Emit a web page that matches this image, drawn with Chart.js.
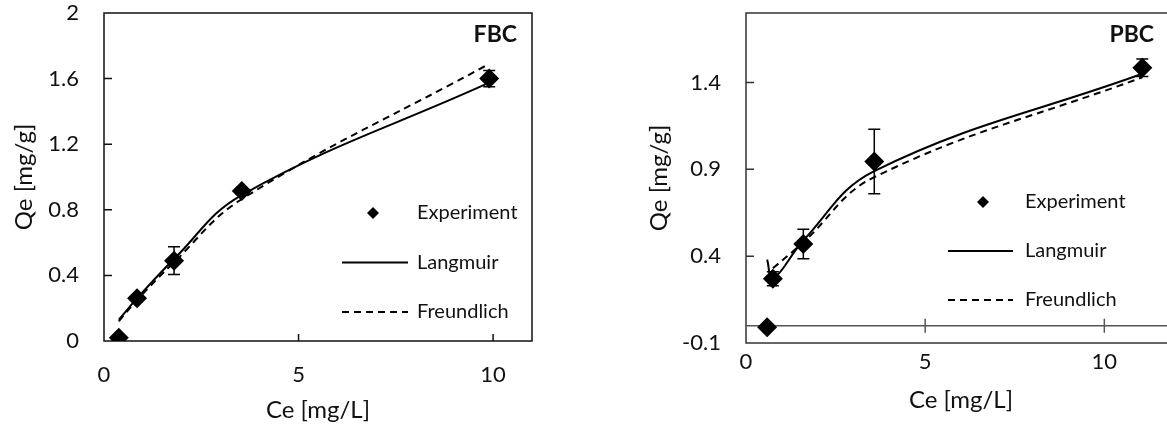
<!DOCTYPE html>
<html>
<head>
<meta charset="utf-8">
<script src="https://cdn.jsdelivr.net/npm/chart.js@4.4.0/dist/chart.umd.min.js"></script>
<style>
  html, body { margin: 0; padding: 0; background: #fff; overflow: hidden; width: 1167px; height: 429px; }
  #left { position: absolute; left: 0; top: 0; }
  #right { position: absolute; left: 600px; top: 0; }
</style>
</head>
<body>
<canvas id="left" width="560" height="429"></canvas>
<canvas id="right" width="600" height="429"></canvas>
<script>
// FBC data
const fbcCe = [0.38, 0.85, 1.8, 3.54, 9.9];
const fbcExp = [0.02, 0.26, 0.49, 0.915, 1.60];
const fbcErr = [0, 0.02, 0.085, 0.02, 0.05];
const fbcLangmuir = [0.13, 0.26, 0.50, 0.89, 1.575];
const fbcFreundlich = [0.12, 0.25, 0.48, 0.865, 1.69];
const fbcXTicks = [0, 5, 10];
const fbcYTicks = [0, 0.4, 0.8, 1.2, 1.6, 2];

// PBC data
const pbcCe = [0.59, 0.75, 1.6, 3.58, 11.06];
const pbcExp = [-0.01, 0.27, 0.47, 0.945, 1.485];
const pbcErr = [0, 0.04, 0.085, 0.185, 0.05];
const pbcLangmuir = [0.38, 0.27, 0.49, 0.89, 1.45];
const pbcFreundlich = [null, 0.33, 0.48, 0.855, 1.43];
const pbcXTicks = [0, 5, 10];
const pbcYTicks = [-0.1, 0.4, 0.9, 1.4];

const legendLabels = ['Experiment', 'Langmuir', 'Freundlich'];

const FONT = 'Lato, "Open Sans", sans-serif';
const TXT = '#111';

function pts(xs, ys) {
  return xs.map((x, i) => ({ x: x, y: ys[i] })).filter(p => p.y !== null);
}

// box, inward ticks, error bars, legend and panel label
const decor = {
  id: 'decor',
  beforeDatasetsDraw(chart, args, o) {
    const { ctx, chartArea: a, scales: { x, y } } = chart;
    ctx.save();
    ctx.strokeStyle = o.boxColor;
    ctx.lineWidth = 1.5;
    ctx.strokeRect(a.left, a.top, a.right - a.left, a.bottom - a.top);

    ctx.beginPath();
    o.yTicks.forEach(v => {
      const py = y.getPixelForValue(v);
      if (py > a.top + 1 && py < a.bottom - 1) { ctx.moveTo(a.left, py); ctx.lineTo(a.left + 8, py); }
    });
    ctx.stroke();

    // horizontal axis line (at y = 0)
    const py0 = y.getPixelForValue(o.axisY);
    ctx.strokeStyle = o.axisColor;
    ctx.beginPath();
    if (o.axisY > y.min) { ctx.moveTo(a.left, py0); ctx.lineTo(a.right, py0); }
    o.xTicks.forEach(v => {
      const px = x.getPixelForValue(v);
      if (px > a.left + 1) { ctx.moveTo(px, py0 + o.xTickDown); ctx.lineTo(px, py0 - 7); }
    });
    ctx.stroke();

    // error bars
    ctx.strokeStyle = '#000';
    ctx.lineWidth = 1.5;
    ctx.beginPath();
    o.errX.forEach((xv, i) => {
      const e = o.err[i];
      if (!e) return;
      const px = x.getPixelForValue(xv);
      const hi = y.getPixelForValue(o.errY[i] + e);
      const lo = y.getPixelForValue(o.errY[i] - e);
      ctx.moveTo(px, hi); ctx.lineTo(px, lo);
      ctx.moveTo(px - 6, hi); ctx.lineTo(px + 6, hi);
      ctx.moveTo(px - 6, lo); ctx.lineTo(px + 6, lo);
    });
    ctx.stroke();
    ctx.restore();
  },
  afterDraw(chart, args, o) {
    const ctx = chart.ctx;
    const L = o.legend;
    ctx.save();
    ctx.fillStyle = '#000';
    // diamond
    ctx.beginPath();
    ctx.moveTo(L.mx, L.y0 - 6); ctx.lineTo(L.mx + 6, L.y0); ctx.lineTo(L.mx, L.y0 + 6); ctx.lineTo(L.mx - 6, L.y0);
    ctx.closePath(); ctx.fill();
    ctx.strokeStyle = '#000';
    ctx.lineWidth = 2;
    ctx.beginPath();
    ctx.moveTo(L.lx0, L.y0 + L.dy); ctx.lineTo(L.lx1, L.y0 + L.dy);
    ctx.stroke();
    ctx.setLineDash([7, 5]);
    ctx.beginPath();
    ctx.moveTo(L.lx0, L.y0 + 2 * L.dy); ctx.lineTo(L.lx1, L.y0 + 2 * L.dy);
    ctx.stroke();
    ctx.setLineDash([]);
    ctx.fillStyle = TXT;
    ctx.font = '20px ' + FONT;
    ctx.textBaseline = 'middle';
    ctx.textAlign = 'left';
    legendLabels.forEach((t, i) => ctx.fillText(t, L.tx, L.y0 + i * L.dy));
    ctx.font = 'bold 23px ' + FONT;
    ctx.textAlign = 'right';
    ctx.fillText(o.label, chart.chartArea.right - o.labelRight, chart.chartArea.top + 22);
    ctx.restore();
  }
};

function makeChart(id, cfg) {
  const tickFont = { family: FONT, size: 22 };
  const titleFont = { family: FONT, size: 24 };
  const fmt = v => String(Math.round(v * 100) / 100);
  return new Chart(document.getElementById(id), {
    type: 'scatter',
    data: {
      datasets: [
        {
          label: legendLabels[0],
          data: pts(cfg.ce, cfg.exp),
          pointStyle: 'rectRot',
          pointRadius: 10,
          pointBackgroundColor: '#000',
          pointBorderWidth: 0,
          showLine: false
        },
        {
          label: legendLabels[1],
          data: pts(cfg.ce, cfg.lang),
          showLine: true,
          pointRadius: 0,
          borderColor: '#000',
          borderWidth: 2,
          tension: 0.4
        },
        {
          label: legendLabels[2],
          data: pts(cfg.ce, cfg.freu),
          showLine: true,
          pointRadius: 0,
          borderColor: '#000',
          borderWidth: 2,
          borderDash: [7, 5],
          tension: 0.4
        }
      ]
    },
    options: {
      responsive: false,
      animation: false,
      layout: { padding: { top: 13, right: cfg.padRight, left: 0, bottom: 0 } },
      plugins: {
        legend: { display: false },
        tooltip: { enabled: false },
        decor: {
          boxColor: cfg.boxColor,
          axisColor: cfg.axisColor,
          axisY: 0,
          xTickDown: cfg.xTickDown,
          xTicks: cfg.xTicks,
          yTicks: cfg.yTicks,
          errX: cfg.ce,
          errY: cfg.exp,
          err: cfg.err,
          legend: cfg.legend,
          label: cfg.label,
          labelRight: cfg.labelRight
        }
      },
      scales: {
        x: {
          type: 'linear',
          min: 0,
          max: cfg.xMax,
          grid: { display: false, drawTicks: false },
          border: { display: false },
          ticks: { font: tickFont, color: TXT, padding: cfg.xPad, maxRotation: 0, callback: fmt },
          afterBuildTicks: s => { s.ticks = cfg.xTicks.map(v => ({ value: v })); },
          afterFit: s => { s.height = cfg.xHeight; s.paddingLeft = 0; s.paddingRight = 0; },
          title: { display: true, text: 'Ce [mg/L]', font: titleFont, color: TXT, padding: { top: 0, bottom: cfg.xTitlePad } }
        },
        y: {
          type: 'linear',
          min: cfg.yMin,
          max: cfg.yMax,
          grid: { display: false, drawTicks: false },
          border: { display: false },
          ticks: { font: tickFont, color: TXT, padding: 25, callback: fmt },
          afterBuildTicks: s => { s.ticks = cfg.yTicks.map(v => ({ value: v })); },
          afterFit: s => { s.width = cfg.yWidth; s.paddingTop = 0; s.paddingBottom = 0; },
          title: { display: true, text: 'Qe [mg/g]', font: titleFont, color: TXT, padding: { top: cfg.yTitlePad, bottom: 0 } }
        }
      }
    },
    plugins: [decor]
  });
}

makeChart('left', {
  ce: fbcCe, exp: fbcExp, err: fbcErr, lang: fbcLangmuir, freu: fbcFreundlich,
  xTicks: fbcXTicks, yTicks: fbcYTicks,
  xMax: 11, yMin: 0, yMax: 2,
  padRight: 28, xHeight: 88, yWidth: 104,
  xPad: 21, xTitlePad: 4, yTitlePad: 10,
  boxColor: '#111', axisColor: '#111', xTickDown: 0,
  label: 'FBC', labelRight: 15,
  legend: { mx: 373, tx: 417, lx0: 342, lx1: 408, y0: 213, dy: 49.5 }
});

makeChart('right', {
  ce: pbcCe, exp: pbcExp, err: pbcErr, lang: pbcLangmuir, freu: pbcFreundlich,
  xTicks: pbcXTicks, yTicks: pbcYTicks,
  xMax: 12, yMin: -0.1, yMax: 1.8,
  padRight: 24, xHeight: 86, yWidth: 146,
  xPad: 6, xTitlePad: 14, yTitlePad: 45,
  boxColor: '#333', axisColor: '#555', xTickDown: 7,
  label: 'PBC', labelRight: 22,
  legend: { mx: 383, tx: 425, lx0: 348, lx1: 413, y0: 202, dy: 49 }
});
</script>
</body>
</html>
